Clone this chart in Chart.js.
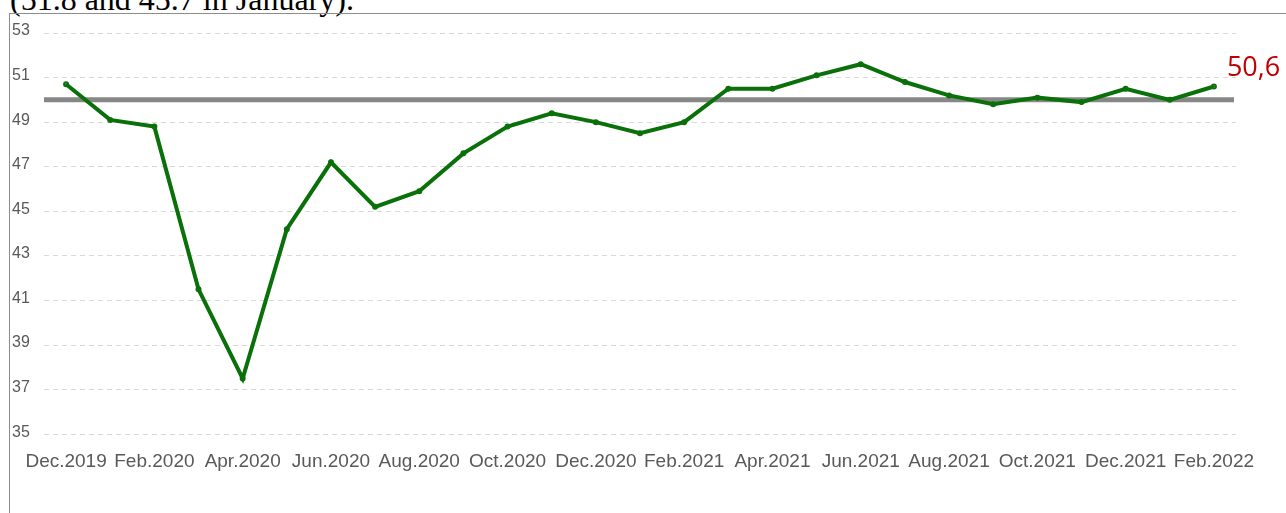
<!DOCTYPE html>
<html lang="en">
<head>
    <meta charset="UTF-8">
    <title>PMI</title>
    <script src="https://cdn.jsdelivr.net/npm/chart.js"></script>
    <style>
        body { margin: 0; width: 1286px; height: 513px; overflow: hidden; background: #fff; position: relative; }
        #ustYazi { position: absolute; left: 10px; top: -17px; font: 32px "Liberation Serif", serif; line-height: 32px; color: #000; white-space: nowrap; }
        #cerceve { position: absolute; left: 9px; top: 13px; right: -5px; bottom: -5px; border-left: 1px solid #8c8c8c; border-top: 1px solid #8c8c8c; }
        #grafik { position: absolute; left: 0; top: 0; }
    </style>
</head>
<body>
    <div id="ustYazi">(51.8 and 45.7 in January).</div>
    <div id="cerceve"></div>
    <canvas id="grafik" width="1286" height="513"></canvas>

    <script>
        // Aylar (Dec.2019 - Feb.2022)
        var aylar = ['Dec.2019', 'Jan.2020', 'Feb.2020', 'Mar.2020', 'Apr.2020', 'May.2020', 'Jun.2020',
            'Jul.2020', 'Aug.2020', 'Sep.2020', 'Oct.2020', 'Nov.2020', 'Dec.2020', 'Jan.2021',
            'Feb.2021', 'Mar.2021', 'Apr.2021', 'May.2021', 'Jun.2021', 'Jul.2021', 'Aug.2021',
            'Sep.2021', 'Oct.2021', 'Nov.2021', 'Dec.2021', 'Jan.2022', 'Feb.2022'];

        // Endeks değerleri
        var endeks = [50.7, 49.1, 48.8, 41.5, 37.5, 44.2, 47.2,
            45.2, 45.9, 47.6, 48.8, 49.4, 49.0, 48.5,
            49.0, 50.5, 50.5, 51.1, 51.6, 50.8, 50.2,
            49.8, 50.1, 49.9, 50.5, 50.0, 50.6];

        // Eksen ve eşik
        var yMin = 35, yMax = 53, yAdim = 2;
        var esik = 50;
        var sonEtiket = '50,6';

        var esikCizgisi = {
            id: 'esikCizgisi',
            beforeDatasetsDraw: function (chart) {
                var ctx = chart.ctx, area = chart.chartArea;
                var y = chart.scales.y.getPixelForValue(esik);
                ctx.save();
                ctx.strokeStyle = '#878787';
                ctx.lineWidth = 5;
                ctx.beginPath();
                ctx.moveTo(area.left, y);
                ctx.lineTo(area.right - 2, y);
                ctx.stroke();
                ctx.restore();
            }
        };

        var sonDegerEtiketi = {
            id: 'sonDegerEtiketi',
            afterDatasetsDraw: function (chart) {
                var ctx = chart.ctx;
                var meta = chart.getDatasetMeta(0);
                var p = meta.data[meta.data.length - 1];
                ctx.save();
                ctx.fillStyle = '#c00000';
                ctx.font = '27px "Open Sans", sans-serif';
                ctx.textAlign = 'left';
                ctx.textBaseline = 'middle';
                ctx.fillText(sonEtiket, p.x + 13, p.y - 18);
                ctx.restore();
            }
        };

        var ctx = document.getElementById('grafik').getContext('2d');
        var grafik = new Chart(ctx, {
            type: 'line',
            data: {
                labels: aylar,
                datasets: [{
                    data: endeks,
                    borderColor: '#0a700a',
                    backgroundColor: '#0a700a',
                    borderWidth: 4,
                    pointRadius: 1,
                    pointHoverRadius: 1,
                    tension: 0,
                    fill: false
                }]
            },
            options: {
                responsive: false,
                animation: false,
                layout: { padding: { left: 12, right: 50, top: 33, bottom: 32 } },
                plugins: { legend: { display: false }, tooltip: { enabled: false } },
                scales: {
                    x: {
                        offset: true,
                        grid: { display: false },
                        border: { display: false },
                        ticks: {
                            autoSkip: false,
                            maxRotation: 0,
                            padding: 8,
                            color: '#595959',
                            font: { family: '"Liberation Sans", Arial, sans-serif', size: 19 },
                            callback: function (v, i) { return i % 2 === 0 ? aylar[i] : ''; }
                        }
                    },
                    y: {
                        min: yMin,
                        max: yMax,
                        afterFit: function (s) { s.width = 32; },
                        grid: { color: '#d9d9d9', drawTicks: false, lineWidth: 1 },
                        border: { display: false, dash: [5, 4] },
                        ticks: {
                            stepSize: yAdim,
                            crossAlign: 'far',
                            labelOffset: -2,
                            color: '#595959',
                            font: { family: '"Liberation Sans", Arial, sans-serif', size: 16 }
                        }
                    }
                }
            },
            plugins: [esikCizgisi, sonDegerEtiketi]
        });
    </script>
</body>
</html>
